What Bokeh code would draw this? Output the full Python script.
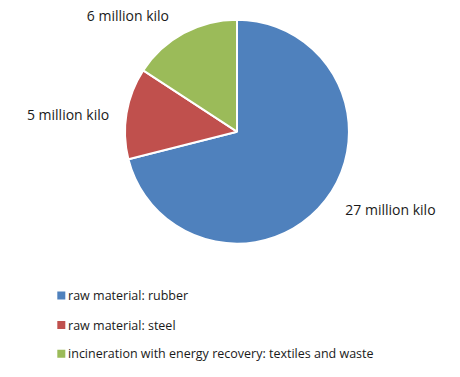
import numpy as np
from bokeh.plotting import figure
from bokeh.models import Range1d, ColumnDataSource
from bokeh.core.properties import value
from bokeh.embed import file_html
from bokeh.resources import INLINE

categories = ["raw material: rubber", "raw material: steel",
              "incineration with energy recovery: textiles and waste"]
values = [27, 5, 6]
labels = ["27 million kilo", "5 million kilo", "6 million kilo"]
colors = ["#4F81BD", "#C0504D", "#9BBB59"]

W, H = 444, 361
p = figure(width=W, height=H, output_backend="svg", toolbar_location=None,
           x_range=Range1d(0, 460), y_range=Range1d(0, 377),
           min_border=0)
p.axis.visible = False
p.grid.visible = False
p.outline_line_color = None
p.background_fill_color = "white"

def Y(sy):
    return 377 - sy

cx, cy, r = 245, Y(137), 112
vals = np.array(values, dtype=float)
frac = vals / vals.sum()
ends = np.pi / 2 - 2 * np.pi * np.cumsum(frac)
starts = np.concatenate([[np.pi / 2], ends[:-1]])

src = ColumnDataSource(dict(start=starts, end=ends, color=colors,
                            x=[cx] * 3, y=[cy] * 3))
p.wedge(x="x", y="y", radius=r, radius_units="screen", start_angle="start",
        end_angle="end", direction="clock", fill_color="color",
        line_color="white", line_width=2, source=src)

# data labels
lx = [404, 70, 132]
ly = [Y(218), Y(119), Y(16)]
p.text(x=lx, y=ly, text=labels, text_align="center", text_baseline="middle",
       text_font=value("Open Sans"), text_font_size="14px", text_color="#1a1a1a")

# legend
leg_y = [Y(308), Y(339), Y(369)]
p.rect(x=[63] * 3, y=leg_y, width=8, height=8, width_units="screen",
       height_units="screen", fill_color=colors, line_color=None)
p.text(x=[70] * 3, y=leg_y, text=categories, text_align="left",
       text_baseline="middle", text_font=value("Open Sans"),
       text_font_size="12.5px", text_color="#1a1a1a")

open("out.html", "w").write(file_html(p, INLINE))
